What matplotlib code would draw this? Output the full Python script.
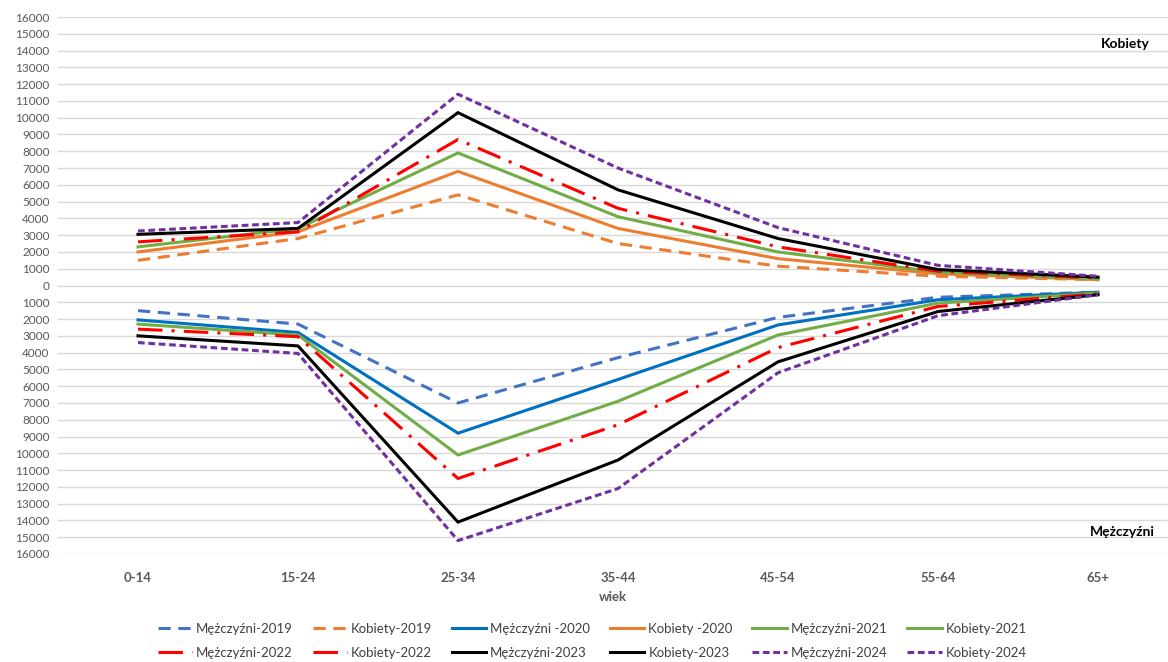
import numpy as np
import matplotlib.pyplot as plt
from matplotlib.ticker import FuncFormatter, MultipleLocator

plt.rcParams['font.family'] = ['Lato', 'DejaVu Sans']

wiek = ['0-14', '15-24', '25-34', '35-44', '45-54', '55-64', '65+']

# kobiety (dodatnie)
k2019 = [1500, 2800, 5400, 2500, 1150, 550, 350]
k2020 = [2000, 3200, 6800, 3400, 1600, 700, 350]
k2021 = [2300, 3400, 7900, 4100, 2000, 800, 400]
k2022 = [2600, 3200, 8700, 4600, 2300, 850, 450]
k2023 = [3050, 3400, 10300, 5700, 2800, 950, 500]
k2024 = [3250, 3750, 11400, 7000, 3450, 1200, 550]

# mezczyzni (ujemne na wykresie)
m2019 = [1500, 2300, 7000, 4300, 1900, 700, 400]
m2020 = [2050, 2800, 8800, 5600, 2350, 850, 400]
m2021 = [2300, 2950, 10100, 6900, 2950, 1050, 450]
m2022 = [2600, 3050, 11500, 8300, 3700, 1250, 500]
m2023 = [3000, 3600, 14100, 10400, 4550, 1550, 550]
m2024 = [3400, 4050, 15200, 12100, 5200, 1800, 550]

dash19 = (0, (4, 2.5))
dash22 = (0, (8, 3, 1, 3))
dash24 = (0, (2.2, 1.2))

series = [
    ('Mężczyźni-2019', m2019, -1, '#4472C4', dash19),
    ('Kobiety-2019', k2019, 1, '#ED7D31', dash19),
    ('Mężczyźni -2020', m2020, -1, '#0070C0', '-'),
    ('Kobiety -2020', k2020, 1, '#ED7D31', '-'),
    ('Mężczyźni-2021', m2021, -1, '#70AD47', '-'),
    ('Kobiety-2021', k2021, 1, '#70AD47', '-'),
    ('Mężczyźni-2022', m2022, -1, '#FF0000', dash22),
    ('Kobiety-2022', k2022, 1, '#FF0000', dash22),
    ('Mężczyźni-2023', m2023, -1, '#000000', '-'),
    ('Kobiety-2023', k2023, 1, '#000000', '-'),
    ('Mężczyźni-2024', m2024, -1, '#7030A0', dash24),
    ('Kobiety-2024', k2024, 1, '#7030A0', dash24),
]

fig = plt.figure(figsize=(11.68, 6.62), dpi=100)
ax = fig.add_axes([58 / 1168, 1 - 554 / 662, 1 - 58 / 1168, (554 - 17) / 662])

x = np.arange(len(wiek))
handles = []
for name, vals, sign, col, ls in series:
    h, = ax.plot(x, sign * np.array(vals), color=col, linestyle=ls, lw=2.2,
                 label=name, solid_joinstyle='miter')
    handles.append(h)

ax.set_xlim(-0.5, 6 + 70 / 160)
ax.set_ylim(-16000, 16000)
ax.yaxis.set_major_locator(MultipleLocator(1000))
ax.yaxis.set_major_formatter(FuncFormatter(lambda v, p: f'{abs(int(round(v)))}'))
ax.grid(axis='y', color='#D9D9D9', lw=1)
ax.set_axisbelow(True)
for s in ax.spines.values():
    s.set_visible(False)
ax.tick_params(axis='both', length=0, colors='#595959')
ax.tick_params(axis='y', labelsize=8.5, pad=6)
ax.set_xticks(x)
ax.set_xticklabels(wiek, fontsize=9.5, fontweight='bold')
ax.tick_params(axis='x', pad=13)
ax.set_xlabel('wiek', fontsize=9.5, fontweight='bold', color='#595959', labelpad=5)

fig.text(1125 / 1168, 1 - 44 / 662, 'Kobiety', ha='center', va='center',
         fontsize=10, fontweight='bold')
fig.text(1122 / 1168, 1 - 532 / 662, 'Mężczyźni', ha='center', va='center',
         fontsize=10, fontweight='bold')

# row-wise order for 6 columns
order = []
for c in range(6):
    order += [handles[c], handles[c + 6]]
fig.legend(handles=order, labels=[h.get_label() for h in order], ncol=6,
           loc='center', bbox_to_anchor=(0.507, 1 - 641 / 662), frameon=False,
           fontsize=9.5, labelcolor='#404040', handlelength=2.6,
           handletextpad=0.3, columnspacing=1.5, labelspacing=0.9)

fig.savefig('out.png', dpi=100)
